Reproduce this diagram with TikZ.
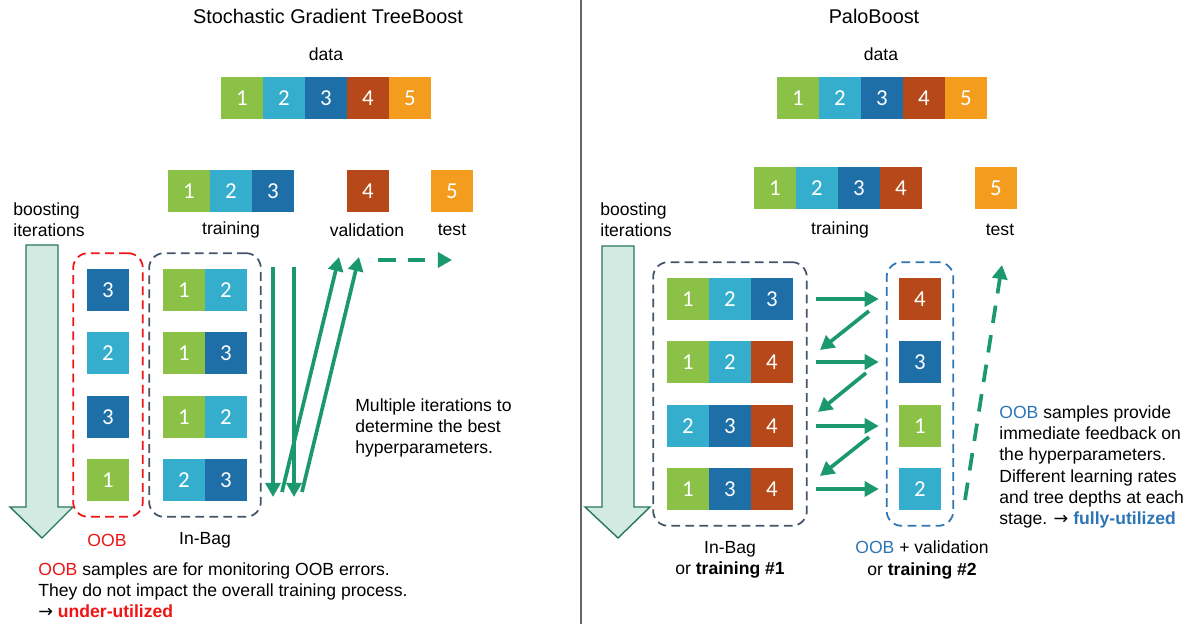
\documentclass[tikz,border=0pt]{standalone}
\usepackage{fontspec}
\setmainfont{Liberation Sans}
\newfontfamily\cellfont{Carlito}
\newfontfamily\symfont{DejaVu Sans}
\usetikzlibrary{arrows.meta,positioning,fit,calc}
\definecolor{c1}{RGB}{139,193,71}
\definecolor{c2}{RGB}{53,174,206}
\definecolor{c3}{RGB}{30,110,168}
\definecolor{c4}{RGB}{183,72,25}
\definecolor{c5}{RGB}{243,156,30}
\definecolor{flowgreen}{RGB}{28,152,110}
\definecolor{oobred}{RGB}{240,20,20}
\definecolor{oobblue}{RGB}{46,117,182}
\definecolor{bagline}{RGB}{68,84,106}
\definecolor{bigfill}{RGB}{211,234,227}
\definecolor{bigline}{RGB}{40,120,90}

\newcommand{\sym}{{\symfont →}}

\tikzset{
  cell/.style={minimum size=0.84cm, inner sep=0pt, text=white,
    font=\cellfont\fontsize{13}{13}\selectfont},
  bagbox/.style={draw=bagline, line width=1pt, dash pattern=on 5pt off 3pt,
    rounded corners=0.3cm, inner xsep=0.27cm, inner ysep=0.31cm},
  flow/.style={draw=flowgreen, line width=2.1pt, -{Triangle[length=8pt,width=8.5pt]}},
  bigarrow/.style={draw=bigline, fill=bigfill, line width=0.8pt},
  note/.style={align=left, anchor=west, inner sep=0pt}
}

\begin{document}
\begin{tikzpicture}[x=0.02cm, y=-0.02cm, font=\fontsize{10}{12}\selectfont]
    \useasboundingbox (0,0) rectangle (1188,624);

    % Divider
    \draw[gray!80!black, line width=0.6pt] (581,0) -- (581,624);

    % ---------------- Left: Stochastic Gradient TreeBoost ----------------
    \node[font=\fontsize{11.3}{13}\selectfont] (ltitle) at (328,16) {Stochastic Gradient TreeBoost};
    \node (ldata) at (326,54) {data};
    \foreach \i in {1,...,5}
        \node[cell, fill=c\i] (d\i) at ({200+42*\i},98) {\i};

    % training / validation / test
    \foreach \i in {1,2,3}
        \node[cell, fill=c\i] (tr\i) at ({147+42*\i},191) {\i};
    \node[cell, fill=c4] (val) at (368,191) {4};
    \node[cell, fill=c5] (tst) at (452,191) {5};
    \node (ltrain) at (231,230) {training};
    \node (lval) at (367,230) {validation};
    \node (ltest) at (452,230) {test};

    % boosting iterations
    \node[note] (liter) at (13,220) {boosting\\iterations};
    \draw[bigarrow] (26,245) -- (58,245) -- (58,507) -- (73,507) -- (42,538)
        -- (10,507) -- (26,507) -- cycle;

    % OOB column and In-Bag column
    \foreach \r/\y/\v in {1/290/3, 2/353/2, 3/417/3, 4/480/1}
        \node[cell, fill=c\v] (ob\r) at (108,\y) {\v};
    \foreach \r/\y/\a/\b in {1/290/1/2, 2/353/1/3, 3/417/1/2, 4/480/2/3} {
        \node[cell, fill=c\a] (ib\r a) at (184,\y) {\a};
        \node[cell, fill=c\b] (ib\r b) at (226,\y) {\b};
    }
    \node[bagbox, draw=oobred, fit=(ob1)(ob4)] (oobL) {};
    \node[bagbox, fit=(ib1a)(ib4b)] (ibL) {};
    \node[text=oobred] (loob) at (107,540) {OOB};
    \node (linbag) at (205,540) {In-Bag};

    % tuning loop
    \coordinate (dn1s) at (273,267);
    \coordinate (dn1e) at (273,497);
    \coordinate (dn2s) at (294,267);
    \coordinate (dn2e) at (294,497);
    \coordinate (up1s) at (282,492);
    \coordinate (up1e) at (339,257);
    \coordinate (up2s) at (302,492);
    \coordinate (up2e) at (359,257);
    \coordinate (tsts) at (378,260);
    \coordinate (tste) at (452,260);
    \draw[flow] (dn1s) -- (dn1e);
    \draw[flow] (dn2s) -- (dn2e);
    \draw[flow] (up1s) -- (up1e);
    \draw[flow] (up2s) -- (up2e);
    \draw[flow, dash pattern=on 10pt off 7pt] (tsts) -- (tste);

    \node[note] (lmulti) at (355,428)
        {Multiple iterations to\\determine the best\\hyperparameters.};

    \node[note] (lnote) at (38,590)
        {\textcolor{oobred}{OOB} samples are for monitoring OOB errors.\\
         They do not impact the overall training process.\\
         \sym\ \textcolor{oobred}{\textbf{under-utilized}}};

    % ---------------- Right: PaloBoost ----------------
    \node[font=\fontsize{11.3}{13}\selectfont] (rtitle) at (874,16) {PaloBoost};
    \node (rdata) at (881,54) {data};
    \foreach \i in {1,...,5}
        \node[cell, fill=c\i] (rd\i) at ({756+42*\i},98) {\i};

    \foreach \i in {1,...,4}
        \node[cell, fill=c\i] (rtr\i) at ({733+42*\i},188) {\i};
    \node[cell, fill=c5] (rtst) at (996,188) {5};
    \node (rtrain) at (840,230) {training};
    \node (rtest) at (1000,230) {test};

    \node[note] (riter) at (600,220) {boosting\\iterations};
    \draw[bigarrow] (602,246) -- (634,246) -- (634,507) -- (650,507) -- (618,538)
        -- (585,507) -- (602,507) -- cycle;

    % In-Bag (training #1) and OOB (training #2)
    \foreach \r/\y/\a/\b/\c in {1/299/1/2/3, 2/362/1/2/4, 3/426/2/3/4, 4/489/1/3/4} {
        \node[cell, fill=c\a] (rib\r a) at (688,\y) {\a};
        \node[cell, fill=c\b] (rib\r b) at (730,\y) {\b};
        \node[cell, fill=c\c] (rib\r c) at (772,\y) {\c};
    }
    \foreach \r/\y/\v in {1/299/4, 2/362/3, 3/426/1, 4/489/2}
        \node[cell, fill=c\v] (rob\r) at (920,\y) {\v};
    \node[bagbox, fit=(rib1a)(rib4c)] (ibR) {};
    \node[bagbox, draw=oobblue, inner xsep=0.24cm, fit=(rob1)(rob4)] (oobR) {};

    % feedback arrows
    \foreach \r in {1,...,4}
        \draw[flow, shorten <=0.16cm, shorten >=0.14cm] (ibR.east |- rob\r) -- (oobR.west |- rob\r);
    \coordinate (bk1s) at (869,311);
    \coordinate (bk1e) at (820,350);
    \coordinate (bk2s) at (866,373);
    \coordinate (bk2e) at (818,412);
    \coordinate (bk3s) at (869,437);
    \coordinate (bk3e) at (820,476);
    \draw[flow] (bk1s) -- (bk1e);
    \draw[flow] (bk2s) -- (bk2e);
    \draw[flow] (bk3s) -- (bk3e);
    \coordinate (rtsts) at (965,500);
    \coordinate (rtste) at (1002,265);
    \draw[flow, dash pattern=on 10pt off 7pt] (rtsts) -- (rtste);

    \node[align=center] (rinbag) at (730,560) {In-Bag\\or \textbf{training \#1}};
    \node[align=center] (roob) at (922,560)
        {\textcolor{oobblue}{OOB} + validation\\or \textbf{training \#2}};

    \node[note] (rnote) at (999,467)
        {\textcolor{oobblue}{OOB} samples provide\\immediate feedback on\\the hyperparameters.\\
         Different learning rates\\and tree depths at each\\
         stage. \sym\ \textcolor{oobblue}{\textbf{fully-utilized}}};
\end{tikzpicture}
\end{document}
